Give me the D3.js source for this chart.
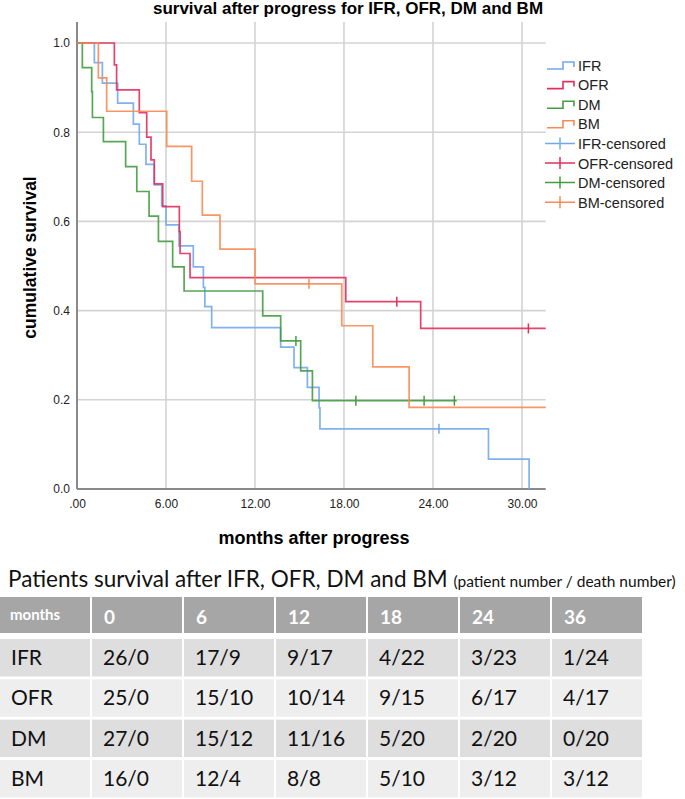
<!DOCTYPE html>
<html>
<head>
<meta charset="utf-8">
<script src="https://cdn.jsdelivr.net/npm/d3@7"></script>
<style>
  body { margin: 0; background: #fff; }
  svg { display: block; }
</style>
</head>
<body>
<svg id="chart" width="685" height="799"></svg>
<script>
// Kaplan-Meier steps: [month of drop, survival after drop]
const ifrSteps = [[1.17,.956],[1.71,.910],[2.74,.865],[3.80,.818],[4.20,.773],[4.65,.728],[5.21,.682],[5.71,.635],[6.00,.592],[6.88,.545],[7.84,.498],[8.52,.452],[8.62,.409],[9.08,.362],[13.73,.318],[14.63,.272],[15.53,.228],[16.32,.182],[16.38,.135],[27.74,.067],[30.48,0]];
const ofrSteps = [[2.52,.951],[2.67,.895],[4.20,.844],[4.70,.789],[4.99,.738],[5.21,.684],[5.78,.633],[6.90,.577],[6.95,.528],[7.62,.474],[18.12,.420],[23.17,.360]];
const dmSteps  = [[0.36,.945],[0.99,.891],[1.04,.833],[1.78,.779],[3.28,.723],[4.03,.667],[4.86,.612],[5.49,.555],[6.45,.498],[7.22,.444],[12.52,.388],[13.73,.332],[15.08,.265],[15.87,.198]];
const bmSteps  = [[1.44,.922],[2.00,.847],[6.05,.768],[7.73,.690],[8.45,.614],[9.64,.538],[12.00,.460],[17.85,.366],[19.94,.274],[22.39,.183]];

const ifrCensored = [24.4];
const ofrCensored = [21.56, 30.43];
const dmCensored  = [14.76, 18.8, 23.4, 25.44];
const bmCensored  = [15.64];

const ifrEnd = 30.48, ofrEnd = 31.6, dmEnd = 25.6, bmEnd = 31.6;

const xTicks = [0, 6, 12, 18, 24, 30];
const yTicks = [0, 0.2, 0.4, 0.6, 0.8, 1.0];

const groups = ["IFR", "OFR", "DM", "BM"];
const colors = ["#73a8ec", "#e2305c", "#449c41", "#f98a55"];

// table under the chart
const tableMonths = ["0", "6", "12", "18", "24", "36"];
const tableIFR = ["26/0", "17/9", "9/17", "4/22", "3/23", "1/24"];
const tableOFR = ["25/0", "15/10", "10/14", "9/15", "6/17", "4/17"];
const tableDM  = ["27/0", "15/12", "11/16", "5/20", "2/20", "0/20"];
const tableBM  = ["16/0", "12/4", "8/8", "5/10", "3/12", "3/12"];

const series = [
  {name: "IFR", steps: ifrSteps, cens: ifrCensored, end: ifrEnd},
  {name: "OFR", steps: ofrSteps, cens: ofrCensored, end: ofrEnd},
  {name: "DM",  steps: dmSteps,  cens: dmCensored,  end: dmEnd},
  {name: "BM",  steps: bmSteps,  cens: bmCensored,  end: bmEnd}
];

const svg = d3.select("#chart");
const font = "'Liberation Sans', Arial, sans-serif";

const x = d3.scaleLinear([0, 30], [77, 522]);
const y = d3.scaleLinear([0, 1], [489, 43]);
const plotTop = 22, plotRight = x(31.6);

const color = d3.scaleOrdinal(groups, colors);

// title
svg.append("text")
    .attr("x", 348).attr("y", 14)
    .attr("text-anchor", "middle")
    .attr("font-family", font).attr("font-weight", "bold").attr("font-size", 17)
    .text("survival after progress for IFR, OFR, DM and BM");

// grid
svg.append("g")
    .attr("stroke", "#d3d3d3").attr("stroke-width", 1.6)
  .selectAll("line")
  .data(xTicks.slice(1))
  .join("line")
    .attr("x1", d => x(d)).attr("x2", d => x(d))
    .attr("y1", plotTop).attr("y2", y(0));

svg.append("g")
    .attr("stroke", "#d3d3d3").attr("stroke-width", 1.6)
  .selectAll("line")
  .data(yTicks.slice(1))
  .join("line")
    .attr("x1", x(0)).attr("x2", plotRight)
    .attr("y1", d => y(d)).attr("y2", d => y(d));

// axes
const xAxis = g => g
    .attr("transform", `translate(0,${y(0)})`)
    .call(d3.axisBottom(x).tickValues(xTicks).tickSize(0).tickPadding(10)
      .tickFormat(d => d === 0 ? ".00" : d3.format(".2f")(d)))
    .call(g => g.select(".domain").attr("d", `M${x(0)},0H${plotRight}`)
      .attr("stroke", "#8a8a8a").attr("stroke-width", 2))
    .call(g => g.selectAll("text").attr("font-family", font).attr("font-size", 12).attr("fill", "#222"));

const yAxis = g => g
    .attr("transform", `translate(${x(0)},0)`)
    .call(d3.axisLeft(y).tickValues(yTicks).tickSize(0).tickPadding(7).tickFormat(d3.format(".1f")))
    .call(g => g.select(".domain").attr("d", `M0,${plotTop}V${y(0)}`)
      .attr("stroke", "#8a8a8a").attr("stroke-width", 2))
    .call(g => g.selectAll("text").attr("font-family", font).attr("font-size", 12).attr("fill", "#222"));

svg.append("g").call(xAxis);
svg.append("g").call(yAxis);

// axis titles
svg.append("text")
    .attr("transform", `translate(36,${(y(0) + plotTop) / 2 + 2}) rotate(-90)`)
    .attr("text-anchor", "middle")
    .attr("font-family", font).attr("font-weight", "bold").attr("font-size", 17.5)
    .text("cumulative survival");

svg.append("text")
    .attr("x", 314).attr("y", 544)
    .attr("text-anchor", "middle")
    .attr("font-family", font).attr("font-weight", "bold").attr("font-size", 18)
    .text("months after progress");

// survival curves
const survAt = (steps, t) => {
  let s = 1;
  for (const [tt, v] of steps) if (tt <= t) s = v;
  return s;
};

const line = d3.line().x(d => x(d[0])).y(d => y(d[1])).curve(d3.curveStepAfter);

const curves = svg.append("g").attr("fill", "none");
series.forEach(s => {
  const pts = [[0, 1], ...s.steps];
  pts.push([s.end, survAt(s.steps, s.end)]);
  curves.append("path")
      .attr("d", line(pts))
      .attr("stroke", color(s.name))
      .attr("stroke-width", 1.7)
      .attr("stroke-opacity", 0.9);
  curves.selectAll(null)
    .data(s.cens)
    .join("line")
      .attr("x1", d => x(d)).attr("x2", d => x(d))
      .attr("y1", d => y(survAt(s.steps, d)) - 5)
      .attr("y2", d => y(survAt(s.steps, d)) + 5)
      .attr("stroke", color(s.name))
      .attr("stroke-width", 1.5);
});

// legend
const legend = svg.append("g").attr("font-family", font).attr("font-size", 14.5);
const legendItems = [
  ...groups.map(g => ({label: g, g, censored: false})),
  ...groups.map(g => ({label: g + "-censored", g, censored: true}))
];
legendItems.forEach((d, i) => {
  const ly = 65 + i * 19.6;
  const item = legend.append("g").attr("transform", `translate(0,${ly})`);
  if (!d.censored) {
    item.append("path")
        .attr("d", "M547,4H563V-3H574V2")
        .attr("fill", "none").attr("stroke", color(d.g)).attr("stroke-width", 1.6);
  } else {
    item.append("path")
        .attr("d", "M545,0H575M560,-6V6")
        .attr("fill", "none").attr("stroke", color(d.g)).attr("stroke-width", 1.5);
  }
  item.append("text")
      .attr("x", 578).attr("y", 5.5)
      .attr("fill", "#222")
      .text(d.label);
});

// table
const tfont = "Lato, 'Open Sans', sans-serif";
const tt = svg.append("text")
    .attr("x", 8).attr("y", 587)
    .attr("font-family", tfont).attr("fill", "#111");
tt.append("tspan").attr("font-size", 22.5).text("Patients survival after IFR, OFR, DM and BM ");
tt.append("tspan").attr("font-size", 15.5).text("(patient number / death number)");

const colW = 90, colStep = 92;
const header = ["months", ...tableMonths];
const rows = [tableIFR, tableOFR, tableDM, tableBM].map((r, i) => [groups[i], ...r]);

const table = svg.append("g").attr("font-family", tfont);
table.selectAll("rect.h")
  .data(header)
  .join("rect")
    .attr("x", (d, i) => i * colStep).attr("y", 597)
    .attr("width", colW).attr("height", 36)
    .attr("fill", "#a6a6a6");
table.selectAll("text.h")
  .data(header)
  .join("text")
    .attr("x", (d, i) => i * colStep + (i === 0 ? 10 : 12))
    .attr("y", (d, i) => i === 0 ? 620 : 624)
    .attr("font-size", (d, i) => i === 0 ? 15 : 19)
    .attr("font-weight", "bold")
    .attr("fill", "#fff")
    .text(d => d);

rows.forEach((r, ri) => {
  const ry = 639 + ri * 40.3;
  const g = table.append("g");
  g.selectAll("rect")
    .data(r)
    .join("rect")
      .attr("x", (d, i) => i * colStep).attr("y", ry)
      .attr("width", colW).attr("height", 37.5)
      .attr("fill", ri % 2 === 0 ? "#dedede" : "#eeeeee");
  g.selectAll("text")
    .data(r)
    .join("text")
      .attr("x", (d, i) => i * colStep + 11)
      .attr("y", ry + 26)
      .attr("font-size", 21)
      .attr("fill", "#111")
      .text(d => d);
});
</script>
</body>
</html>
